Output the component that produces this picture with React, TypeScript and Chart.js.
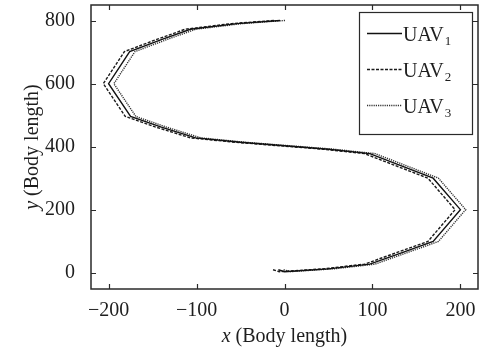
import React, { useEffect, useRef } from 'react';
import { Chart, registerables } from 'chart.js';

Chart.register(...registerables);

// ---- Data ----
const uav1X = [-7, 0, 50, 97, 133, 169, 200, 169, 133, 97, 50, 0, -50, -101, -140, -175, -200, -176, -140, -107, -54, -5];
const uav1Y = [9, 3, 12, 27, 63, 99, 200, 300, 339, 378, 392, 403, 414, 428, 462, 496, 600, 702, 740, 773, 791, 801];
const uav2X = [-13, -6, 44, 91, 127, 163, 194, 163, 127, 91, 44, -6, -56, -107, -146, -181, -206, -182, -146, -113, -60, -11];
const uav2Y = [9, 3, 12, 27, 63, 99, 200, 300, 339, 378, 392, 403, 414, 428, 462, 496, 600, 702, 740, 773, 791, 801];
const uav3X = [-1, 6, 56, 103, 139, 175, 206, 175, 139, 103, 56, 6, -44, -95, -134, -169, -194, -170, -134, -101, -48, 1];
const uav3Y = [9, 3, 12, 27, 63, 99, 200, 300, 339, 378, 392, 403, 414, 428, 462, 496, 600, 702, 740, 773, 791, 801];

const seriesBase = ['UAV', 'UAV', 'UAV'];
const seriesSub = ['1', '2', '3'];
const xTicks = [-200, -100, 0, 100, 200];
const yTicks = [0, 200, 400, 600, 800];
const xMin = -220;
const xMax = 220;
const yMin = -52;
const yMax = 850;
const xTitleVar = 'x';
const yTitleVar = 'y';
const axisTitleRest = ' (Body length)';

const FONT = '"Liberation Serif", "Times New Roman", Times, serif';
const INK = '#1e1e1e';

const lineStyles = [
  { color: '#111111', dash: [] as number[], width: 1.4 },
  { color: '#1a1a1a', dash: [3, 1.5], width: 1.4 },
  { color: '#333333', dash: [1.2, 1], width: 1.4 },
];

const fmt = (v: number) => (v < 0 ? '\u2212' + Math.abs(v) : String(v));

const decorPlugin = {
  id: 'decor',
  afterDraw(chart: any) {
    const ctx: CanvasRenderingContext2D = chart.ctx;
    const { left, right, top, bottom } = chart.chartArea;
    const xs = chart.scales.x;
    const ys = chart.scales.y;
    ctx.save();
    // frame
    ctx.strokeStyle = '#2a2a2a';
    ctx.lineWidth = 1.5;
    ctx.setLineDash([]);
    ctx.strokeRect(left, top, right - left, bottom - top);
    // inward ticks
    ctx.lineWidth = 1.2;
    const tl = 5;
    ctx.beginPath();
    xTicks.forEach((v) => {
      const p = Math.round(xs.getPixelForValue(v)) + 0.5;
      ctx.moveTo(p, bottom);
      ctx.lineTo(p, bottom - tl);
      ctx.moveTo(p, top);
      ctx.lineTo(p, top + tl);
    });
    yTicks.forEach((v) => {
      const p = Math.round(ys.getPixelForValue(v)) + 0.5;
      ctx.moveTo(left, p);
      ctx.lineTo(left + tl, p);
      ctx.moveTo(right, p);
      ctx.lineTo(right - tl, p);
    });
    ctx.stroke();

    // axis titles (italic variable + regular text)
    const drawTitle = (cx: number, baseline: number, v: string) => {
      ctx.font = `italic 20px ${FONT}`;
      const w1 = ctx.measureText(v).width;
      ctx.font = `20px ${FONT}`;
      const w2 = ctx.measureText(axisTitleRest).width;
      const start = cx - (w1 + w2) / 2;
      ctx.fillStyle = INK;
      ctx.textAlign = 'left';
      ctx.textBaseline = 'alphabetic';
      ctx.font = `italic 20px ${FONT}`;
      ctx.fillText(v, start, baseline);
      ctx.font = `20px ${FONT}`;
      ctx.fillText(axisTitleRest, start + w1, baseline);
    };
    drawTitle((left + right) / 2, 342, xTitleVar);
    ctx.save();
    ctx.translate(38, (top + bottom) / 2);
    ctx.rotate(-Math.PI / 2);
    drawTitle(0, 0, yTitleVar);
    ctx.restore();

    // legend
    const lx = 359.5, ly = 12.5, lw = 113, lh = 122;
    ctx.fillStyle = '#ffffff';
    ctx.fillRect(lx, ly, lw, lh);
    ctx.strokeStyle = '#2a2a2a';
    ctx.lineWidth = 1.2;
    ctx.strokeRect(lx, ly, lw, lh);
    seriesBase.forEach((name, i) => {
      const base = 41 + i * 36;
      const st = lineStyles[i];
      ctx.strokeStyle = st.color;
      ctx.lineWidth = st.width;
      ctx.setLineDash(st.dash);
      ctx.beginPath();
      ctx.moveTo(367, base - 7.5);
      ctx.lineTo(402, base - 7.5);
      ctx.stroke();
      ctx.setLineDash([]);
      ctx.fillStyle = INK;
      ctx.textAlign = 'left';
      ctx.textBaseline = 'alphabetic';
      ctx.font = `20px ${FONT}`;
      ctx.fillText(name, 403, base);
      const w = ctx.measureText(name).width;
      ctx.font = `13px ${FONT}`;
      ctx.fillText(seriesSub[i], 403 + w + 1, base + 4);
    });
    ctx.restore();
  },
};

export default function App() {
  const ref = useRef<HTMLCanvasElement | null>(null);
  useEffect(() => {
    if (!ref.current) return;
    const mk = (xs: number[], ys: number[]) => xs.map((x, i) => ({ x, y: ys[i] }));
    const chart = new Chart(ref.current, {
      type: 'scatter',
      data: {
        datasets: [
          { label: 'UAV1', data: mk(uav1X, uav1Y) },
          { label: 'UAV2', data: mk(uav2X, uav2Y) },
          { label: 'UAV3', data: mk(uav3X, uav3Y) },
        ].map((d, i) => ({
          ...d,
          showLine: true,
          pointRadius: 0,
          borderColor: lineStyles[i].color,
          borderWidth: lineStyles[i].width,
          borderDash: lineStyles[i].dash,
          tension: 0,
          fill: false,
        })),
      },
      options: {
        responsive: false,
        animation: false,
        devicePixelRatio: 1,
        layout: { padding: { top: 5, right: 23, left: 0, bottom: 0 } },
        plugins: { legend: { display: false }, tooltip: { enabled: false } },
        scales: {
          x: {
            type: 'linear',
            min: xMin,
            max: xMax,
            grid: { display: false, drawTicks: false, tickLength: 0 },
            border: { display: false },
            afterBuildTicks: (s: any) => {
              s.ticks = xTicks.map((v) => ({ value: v }));
            },
            afterFit: (s: any) => {
              s.height = 69;
              s.paddingLeft = 0;
              s.paddingRight = 0;
              s.paddingTop = 0;
              s.paddingBottom = 0;
            },
            ticks: {
              padding: 10,
              color: INK,
              font: { family: FONT, size: 20 },
              maxRotation: 0,
              callback: (v: any) => fmt(Number(v)),
            },
          },
          y: {
            type: 'linear',
            min: yMin,
            max: yMax,
            grid: { display: false, drawTicks: false, tickLength: 0 },
            border: { display: false },
            afterBuildTicks: (s: any) => {
              s.ticks = yTicks.map((v) => ({ value: v }));
            },
            afterFit: (s: any) => {
              s.width = 91;
              s.paddingLeft = 0;
              s.paddingRight = 0;
              s.paddingTop = 0;
              s.paddingBottom = 0;
            },
            ticks: {
              padding: 16,
              color: INK,
              font: { family: FONT, size: 20 },
              callback: (v: any) => fmt(Number(v)),
            },
          },
        },
      },
      plugins: [decorPlugin],
    });
    return () => chart.destroy();
  }, []);
  return (
    <canvas
      ref={ref}
      width={501}
      height={358}
      style={{ position: 'fixed', left: 0, top: 0, width: 501, height: 358, background: '#fff' }}
    />
  );
}
